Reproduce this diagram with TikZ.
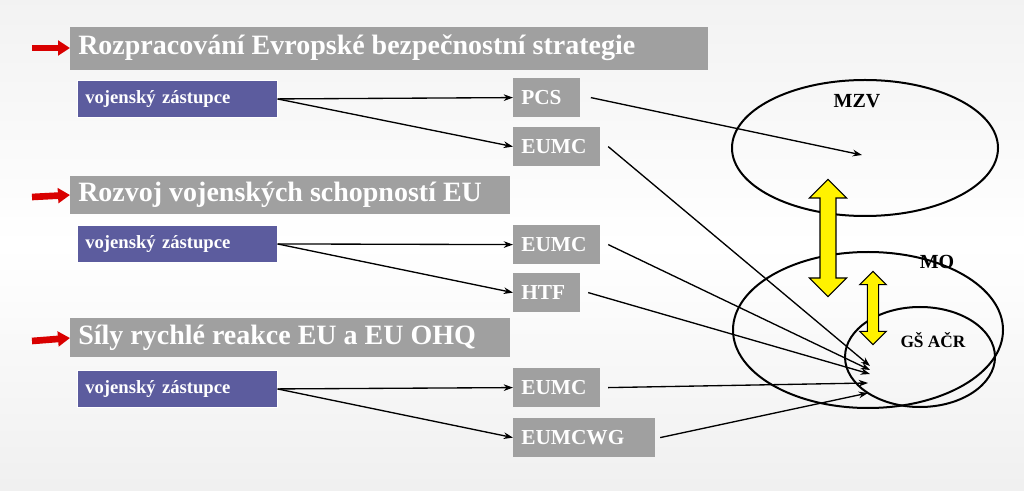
\documentclass[tikz,border=0pt]{standalone}
\usepackage{fontspec}
\setmainfont{Liberation Serif}
\usetikzlibrary{shapes.arrows,arrows.meta}
\definecolor{hd}{HTML}{A0A0A0}
\definecolor{bl}{HTML}{5C5C9E}
\begin{document}
\begin{tikzpicture}[x=0.75pt,y=-0.75pt,
 head/.style={text=white,font=\bfseries\fontsize{21}{23}\selectfont,anchor=west,inner xsep=6pt},
 rep/.style={fill=bl,draw=white,text=white,font=\bfseries\fontsize{14}{16}\selectfont,minimum width=150pt,minimum height=28pt,anchor=north west,align=left,text width=138pt},
 org/.style={fill=hd,text=white,font=\bfseries\fontsize{16}{18}\selectfont,minimum height=29pt,anchor=north west,inner xsep=6pt,align=left},
 con/.style={-{Stealth[length=7pt,width=5pt]},line width=1pt},
 red/.style={-{Triangle[length=9pt,width=11pt]},line width=5pt,red!85!black},
 ell/.style={draw,line width=1.5pt},
 yarr/.style={double arrow,fill=yellow,draw=black,thick,rotate=90,double arrow head extend=5pt}]
\shade[top color=white!90!gray,bottom color=white!88!gray,middle color=white] (0,0) rectangle (1024,491);
\useasboundingbox (0,0) rectangle (1024,491);
% headings
\fill[hd] (70,27) rectangle (708,70); \node[head] (h1) at (70,48) {Rozpracování Evropské bezpečnostní strategie};
\fill[hd] (70,176) rectangle (510,214); \node[head] (h2) at (70,195) {Rozvoj vojenských schopností EU};
\fill[hd] (70,318) rectangle (510,357); \node[head] (h3) at (70,338) {Síly rychlé reakce EU a EU OHQ};
\coordinate (r1) at (32,48); \coordinate (r2) at (32,197); \coordinate (r3) at (32,341);
\draw[red] (r1) -- (h1.west); \draw[red] (r2) -- (h2.west); \draw[red] (r3) -- (h3.west);
% reps
\node[rep] (v1) at (77,80) {vojenský zástupce};
\node[rep] (v2) at (77,225) {vojenský zástupce};
\node[rep] (v3) at (77,370) {vojenský zástupce};
% orgs
\node[org,text width=38pt] (pcs) at (513,78) {PCS};
\node[org,text width=53pt] (e1) at (513,127) {EUMC};
\node[org,text width=53pt] (e2) at (513,225) {EUMC};
\node[org,text width=38pt] (htf) at (513,273) {HTF};
\node[org,text width=53pt] (e3) at (513,368) {EUMC};
\node[org,text width=94pt] (wg) at (513,418) {EUMCWG};
\draw[con] (v1.east) -- (pcs.west); \draw[con] (v1.east) -- (e1.west);
\draw[con] (v2.east) -- (e2.west); \draw[con] (v2.east) -- (htf.west);
\draw[con] (v3.east) -- (e3.west); \draw[con] (v3.east) -- (wg.west);
% ellipses
\draw[ell] (865,148) ellipse [x radius=133,y radius=68];
\draw[ell] (868,330) ellipse [x radius=135,y radius=78];
\draw[ell] (920,357) ellipse [x radius=75,y radius=50];
\node[font=\bfseries\fontsize{15}{17}\selectfont] (mzv) at (857,101) {MZV};
\node[font=\bfseries\fontsize{15}{17}\selectfont] (mo) at (937,262) {MO};
\node[font=\bfseries\fontsize{13}{15}\selectfont] (gs) at (933,340) {GŠ AČR};
\coordinate (tm) at (862,155); \coordinate (t1) at (870,366); \coordinate (t2) at (870,370);
\coordinate (t3) at (870,374); \coordinate (t4) at (868,383); \coordinate (t5) at (868,393);
\draw[con] ([xshift=8pt]pcs.east) -- (tm);
\draw[con] ([xshift=6pt]e1.east) -- (t1);
\draw[con] ([xshift=6pt]e2.east) -- (t2);
\draw[con] ([xshift=6pt]htf.east) -- (t3);
\draw[con] ([xshift=6pt]e3.east) -- (t4);
\draw[con] ([xshift=4pt]wg.east) -- (t5);
% yellow arrows
\node[yarr,minimum width=28pt,minimum height=88pt,double arrow head indent=0pt] (ya) at (828,238) {};
\node[yarr,minimum width=20pt,minimum height=55pt] (yb) at (873,308) {};
\end{tikzpicture}
\end{document}
